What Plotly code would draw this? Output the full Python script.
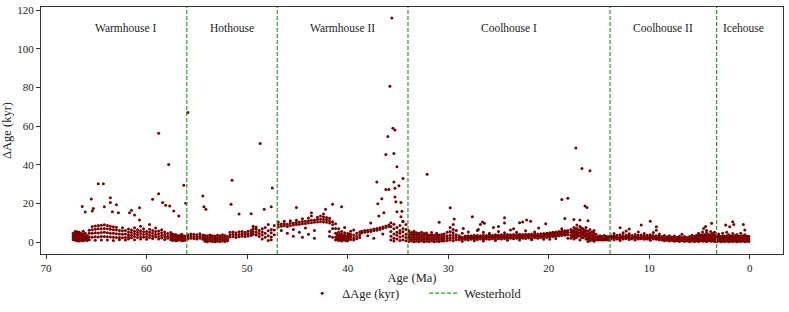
import plotly.graph_objects as go

# ---------------- data ----------------
# Dense band, written column by column: each age has its list of ΔAge values
r1_age = [67.3, 67.1, 66.9, 66.7, 66.5, 66.3, 66.1, 65.9]
r1_dage = [[1.2, 2.3, 3.4, 4.6], [0.9, 2.0, 3.1, 4.3, 5.4], [0.7, 1.8, 3.0, 4.1, 5.3],
           [0.5, 1.6, 2.8, 4.0, 5.0], [0.8, 1.9, 3.2, 4.4], [0.6, 1.7, 2.9, 4.0, 5.6],
           [1.0, 2.2, 3.3, 4.5], [0.8, 2.0, 3.4]]

r2_age = [65.7, 65.4, 65.1, 64.8, 64.5, 64.2, 63.9, 63.6, 63.3, 63.0, 62.7, 62.4, 62.1]
r2_dage = [[1.2, 2.6, 4.5, 6.1], [2.5, 4.6, 6.4, 8.0], [0.9, 2.7, 4.8, 6.6, 8.3],
           [2.6, 4.7, 6.8, 8.6], [1.1, 2.8, 4.9, 6.9, 8.7], [2.9, 5.0, 7.0, 8.9],
           [1.0, 2.7, 4.8, 6.8, 8.5], [2.6, 4.6, 6.6, 8.2], [0.8, 2.5, 4.5, 6.4, 7.9],
           [2.4, 4.3, 6.2, 7.6], [1.2, 2.3, 4.2, 6.0], [2.2, 4.0, 5.8, 7.4], [1.0, 2.4, 4.1, 5.9]]

r3_age = [61.8, 61.5, 61.2, 60.9, 60.6, 60.3, 60.0, 59.7, 59.4, 59.1, 58.8, 58.5, 58.2, 57.9, 57.6]
r3_dage = [[1.5, 2.6, 3.8, 5.2, 6.7], [2.2, 3.5, 4.9, 6.2], [1.2, 2.8, 4.3, 5.6, 7.4],
           [2.4, 3.7, 5.0, 6.4], [1.6, 2.9, 4.4, 5.8, 8.1], [2.5, 3.9, 5.3, 6.9],
           [1.4, 2.7, 4.1, 5.5], [2.3, 3.6, 5.0, 6.6, 9.0], [1.8, 3.1, 4.6, 6.0],
           [2.6, 3.9, 5.4, 7.2], [1.5, 2.8, 4.3, 5.7], [2.1, 3.4, 4.8, 6.3],
           [1.3, 2.6, 3.9, 5.2], [1.9, 3.0, 4.4], [1.2, 2.4, 3.6, 4.9]]

r4_age = [57.4, 57.25, 57.1, 56.95, 56.8, 56.65, 56.5, 56.35, 56.2]
r4_dage = [[0.8, 1.9, 3.0, 4.1], [1.3, 2.4, 3.5], [0.6, 1.7, 2.8, 3.9], [0.9, 2.0, 3.1],
           [1.0, 2.1, 3.2], [1.2, 2.3, 3.4], [0.7, 1.8, 2.9, 4.0], [0.8, 1.9, 3.0], [0.9, 2.0, 3.1]]

r5_age = [55.9, 55.6, 55.3, 55.0, 54.7, 54.4]
r5_dage = [[1.6, 2.7, 3.8], [2.0, 3.1, 4.2], [1.8, 2.9, 4.0], [1.5, 2.6, 3.7],
           [1.9, 3.0, 4.3], [1.4, 2.5, 3.6]]

r6_age = [54.2, 53.95, 53.7, 53.45, 53.2, 52.95, 52.7, 52.45, 52.2, 51.95]
r6_dage = [[0.4, 1.4, 2.4, 3.4], [0.2, 1.2, 2.2, 3.2], [0.5, 1.5, 2.5, 3.6], [0.3, 1.3, 2.3, 3.3],
           [0.2, 1.2, 2.2, 3.1], [0.4, 1.4, 2.4, 3.5], [0.3, 1.3, 2.3, 3.2], [0.5, 1.5, 2.6, 3.7],
           [0.3, 1.3, 2.4, 3.4], [0.6, 1.7, 2.8]]

r7_age = [51.7, 51.4, 51.1, 50.8, 50.5, 50.2, 49.9, 49.6]
r7_dage = [[2.6, 3.8, 5.0], [2.9, 4.0, 5.2], [2.4, 3.6, 4.8], [2.7, 3.9, 5.3],
           [3.0, 4.2, 5.4], [2.8, 4.0, 5.1], [3.1, 4.3, 5.6], [3.4, 4.6, 6.0]]

r8_age = [49.4, 49.1, 48.8, 48.5, 48.2, 47.9, 47.6, 47.3]
r8_dage = [[4.0, 5.5, 7.0, 8.2], [3.6, 5.0, 6.6, 7.8], [2.8, 4.4, 6.0], [1.5, 3.6, 5.2, 6.8],
           [2.5, 4.5, 7.5], [0.8, 3.2, 5.8, 9.0], [1.2, 2.6, 4.8, 6.5], [3.8, 6.2, 8.5]]

r9_age = [46.9, 46.6, 46.3, 46.0, 45.7, 45.4, 45.1, 44.8, 44.5, 44.2, 43.9, 43.6, 43.3]
r9_dage = [[7.8, 9.0, 10.4], [8.1, 9.3, 6.0], [8.4, 9.5, 10.8], [8.0, 9.2, 4.5],
           [8.6, 9.8, 11.0], [8.8, 9.9, 3.0, 6.5], [9.0, 10.1, 11.3], [9.2, 10.3, 5.0],
           [9.4, 10.6, 12.0, 2.5], [9.6, 10.8, 7.2], [9.8, 11.0, 12.4, 4.0],
           [10.0, 11.2, 13.5], [10.2, 11.4, 6.0, 2.0]]

r10_age = [43.0, 42.7, 42.4, 42.1, 41.8, 41.5]
r10_dage = [[10.3, 11.6, 12.8], [10.5, 11.8, 13.4], [10.4, 11.7, 13.0, 14.5],
            [10.2, 11.5, 12.7], [9.8, 11.0, 12.3, 5.5, 3.0], [9.0, 10.5, 7.0, 2.5]]

r11_age = [41.2, 41.05, 40.9, 40.75, 40.6, 40.45, 40.3, 40.15, 40.0, 39.85, 39.7, 39.4, 39.1, 38.8]
r11_dage = [[1.0, 2.5, 4.5, 7.0, 9.5], [1.6, 3.0, 4.2], [0.8, 2.0, 3.4, 5.0, 6.8], [1.2, 2.6, 3.9],
            [0.5, 1.6, 2.8, 4.0, 5.5], [1.0, 2.2, 3.3], [1.1, 2.3, 3.5, 4.8, 7.5], [0.6, 1.7, 2.9],
            [0.7, 1.9, 3.1, 4.4], [1.5, 2.8, 4.1], [1.3, 2.6, 3.9, 5.6], [1.0, 2.2, 3.6, 6.2],
            [1.7, 3.0, 4.5], [2.4, 3.8, 5.2]]

r12_age = [38.6, 38.3, 38.0, 37.7, 37.4, 37.1, 36.8, 36.5, 36.2, 35.9]
r12_dage = [[4.8, 5.6], [5.0, 5.9], [5.3, 6.1, 3.2], [5.5, 6.4], [5.8, 6.7, 2.0],
            [6.1, 7.0], [6.5, 7.4], [7.0, 7.8, 4.2], [7.5, 8.3], [8.0, 8.8]]

r13_age = [35.7, 35.4, 35.1, 34.8, 34.5, 34.2]
r13_dage = [[1.0, 3.0, 5.5, 8.0, 10.0], [0.5, 2.0, 4.2, 6.8, 9.2], [1.5, 3.5, 5.0, 7.5],
            [0.8, 2.6, 4.6, 6.0, 8.6], [1.2, 3.1, 5.3, 7.0, 10.8], [0.6, 2.3, 4.0, 6.5, 9.0]]

r14_age = [33.9, 33.65, 33.4, 33.15, 32.9, 32.65, 32.4, 32.15, 31.9, 31.65, 31.4, 31.15, 30.9, 30.65]
r14_dage = [[0.3, 1.4, 2.5, 3.6, 4.7, 5.8], [0.5, 1.6, 2.7, 3.8, 4.9], [0.2, 1.3, 2.4, 3.5, 4.6, 5.6],
            [0.4, 1.5, 2.6, 3.7, 4.8], [0.3, 1.4, 2.5, 3.6, 4.5], [0.5, 1.6, 2.7, 3.8, 5.0],
            [0.2, 1.3, 2.4, 3.5, 4.4], [0.4, 1.5, 2.6, 3.7, 4.7], [0.3, 1.4, 2.5, 3.6],
            [0.5, 1.6, 2.7, 3.8, 4.9], [0.2, 1.3, 2.4, 3.5], [0.4, 1.5, 2.6, 3.7, 4.6],
            [0.3, 1.4, 2.5, 3.6], [0.5, 1.6, 2.7, 3.9]]

r15_age = [30.4, 30.1, 29.8, 29.5, 29.2]
r15_dage = [[0.5, 1.7, 2.9, 4.1], [0.8, 2.0, 3.2, 5.0], [1.0, 2.3, 3.6, 5.5, 7.5],
            [0.6, 1.9, 3.4, 4.8, 6.5, 9.0], [1.2, 2.5, 3.8, 6.0]]

r16_age = [28.9, 28.75, 28.6, 28.45, 28.3, 28.15, 28.0, 27.85, 27.7, 27.55, 27.4, 27.25, 27.1,
           26.95, 26.8, 26.65, 26.5, 26.35, 26.2, 26.05, 25.9, 25.75, 25.6, 25.45, 25.3, 25.15,
           25.0, 24.85, 24.7, 24.55, 24.4, 24.25, 24.1, 23.95, 23.8, 23.65, 23.5, 23.35, 23.2,
           23.05, 22.9, 22.75, 22.6, 22.45, 22.3, 22.15, 22.0, 21.85, 21.7, 21.55, 21.4, 21.25,
           21.1, 20.95, 20.8, 20.65, 20.5]
r16_dage = [[1.2, 2.2, 3.2], [2.3], [0.4, 1.4, 2.3, 4.5], [2.2], [1.3, 2.2, 3.1], [2.4],
            [1.1, 2.1, 3.3, 5.2], [2.3], [1.4, 2.3, 3.2], [2.5], [0.6, 1.5, 2.4, 3.5], [2.4],
            [1.3, 2.3, 3.4, 6.0], [2.5], [1.5, 2.4, 3.3], [2.6], [0.5, 1.4, 2.4, 3.6, 5.0], [2.5],
            [1.6, 2.5, 3.4], [2.7], [1.4, 2.5, 3.6, 4.6], [2.6], [1.7, 2.6, 3.5], [2.7],
            [0.8, 1.6, 2.6, 3.7], [2.8], [1.7, 2.6, 3.6, 5.5], [2.7], [1.6, 2.7, 3.8], [2.8],
            [1.8, 2.7, 3.6, 4.8], [2.9], [0.9, 1.8, 2.8, 3.9], [2.8], [1.9, 2.8, 3.7, 6.2], [2.9],
            [1.7, 2.8, 3.9], [3.0], [2.0, 2.9, 3.8, 5.0], [2.9], [1.0, 1.9, 3.0, 4.0], [3.0],
            [2.0, 3.0, 3.9], [3.1], [1.8, 2.9, 4.0, 5.8], [3.0], [2.1, 3.0, 4.0], [3.1],
            [1.2, 2.0, 3.1, 4.2], [3.2], [2.2, 3.1, 4.1, 5.2], [3.1], [1.9, 3.0, 4.2], [3.3],
            [2.3, 3.2, 4.3], [3.2], [1.4, 2.3, 3.3, 4.4]]

r17_age = [20.35, 20.2, 20.05, 19.9, 19.75, 19.6, 19.45, 19.3, 19.15, 19.0, 18.85, 18.7,
           18.55, 18.4, 18.25, 18.1]
r17_dage = [[3.0, 4.0], [2.4, 3.5, 4.6], [3.2, 4.2], [2.6, 3.7, 4.8, 1.4], [3.3, 4.4],
            [2.8, 3.9, 5.0], [3.5, 4.6], [3.0, 4.1, 5.2, 1.8], [3.7, 4.8], [3.2, 4.3, 5.4],
            [3.9, 5.0], [3.4, 4.5, 5.6, 6.8], [4.1, 5.2], [3.5, 4.7, 5.8], [4.3, 5.4],
            [3.7, 4.9, 6.0, 2.0]]

r18_age = [17.8, 17.65, 17.5, 17.35, 17.2, 17.05, 16.9, 16.75, 16.6, 16.45, 16.3]
r18_dage = [[2.0, 3.5, 5.0, 6.5], [2.8, 4.3, 5.8], [1.5, 3.0, 4.6, 6.0, 7.5], [2.2, 3.8, 5.3, 6.8],
            [2.5, 4.0, 5.5, 7.0, 8.8], [3.2, 4.7, 6.2], [1.0, 3.2, 4.8, 6.3, 8.0],
            [2.4, 4.0, 5.6, 7.2], [2.2, 3.8, 5.2, 6.8], [3.0, 4.5, 6.0], [1.6, 3.0, 4.4, 6.0, 7.5]]

r19_age = [16.1, 15.9, 15.7, 15.5, 15.3]
r19_dage = [[0.3, 1.5, 2.8, 4.2, 5.6], [0.6, 2.0, 3.4, 4.8, 6.5], [1.0, 2.4, 3.8, 5.2],
            [0.4, 1.8, 3.2, 4.6, 6.0], [1.2, 2.6, 4.0]]

r20_age = [15.1, 14.9, 14.7, 14.5, 14.3, 14.1, 13.95]
r20_dage = [[1.0, 1.8, 2.8], [1.2, 2.0, 3.2], [1.1, 1.9, 2.9], [1.0, 1.8, 3.4],
            [1.2, 2.0, 3.0], [1.1, 1.9, 2.7], [1.0, 1.9, 2.8]]

r21_age = [13.8, 13.65, 13.5, 13.35, 13.2, 13.05, 12.9, 12.75, 12.6, 12.45, 12.3, 12.15, 12.0,
           11.85, 11.7, 11.55, 11.4, 11.25, 11.1, 10.95, 10.8, 10.65, 10.5, 10.35, 10.2, 10.05,
           9.9, 9.75, 9.6, 9.45, 9.3, 9.15, 9.0]
r21_dage = [[1.5, 2.4, 3.3], [2.5], [1.2, 2.3, 3.4, 4.4], [2.4], [1.6, 2.5, 3.5], [2.0],
            [0.8, 1.8, 2.7, 3.7], [2.3], [1.5, 2.5, 3.4, 4.8], [2.2], [1.7, 2.6, 3.6], [2.6],
            [1.3, 2.4, 3.5, 4.3], [2.1], [1.6, 2.5, 3.4], [2.4], [1.0, 2.0, 2.9, 3.9], [2.5],
            [1.5, 2.5, 3.5, 5.2], [2.1], [1.7, 2.6, 3.6], [2.3], [1.4, 2.4, 3.3, 4.4], [2.4],
            [1.6, 2.5, 3.5], [2.0], [0.9, 1.9, 2.8, 3.8], [2.3], [1.5, 2.4, 3.4, 4.9], [2.2],
            [1.4, 2.3, 3.2], [2.1], [1.2, 2.2, 3.1, 4.2]]

r22_age = [8.75, 8.5, 8.25, 8.0, 7.75, 7.5, 7.25, 7.0, 6.75, 6.5, 6.25, 6.0, 5.75, 5.5]
r22_dage = [[1.0, 1.9, 2.8], [0.6, 1.5, 2.4, 3.4], [0.9, 1.8, 2.7], [0.5, 1.4, 2.3, 3.3],
            [0.8, 1.7, 2.6], [0.4, 1.3, 2.2, 3.1], [0.7, 1.6, 2.5], [0.3, 1.2, 2.1, 3.0],
            [0.6, 1.5, 2.4, 4.0], [0.3, 1.2, 2.1, 2.9], [0.5, 1.4, 2.3], [0.2, 1.1, 2.0, 2.9],
            [0.5, 1.4, 2.4, 3.5], [0.3, 1.2, 2.1, 3.0]]

r23_age = [5.3, 5.1, 4.9, 4.7, 4.5, 4.3, 4.1, 3.9, 3.7, 3.5]
r23_dage = [[0.5, 1.5, 2.5, 3.5], [0.3, 1.3, 2.4, 3.4, 4.6], [0.6, 1.6, 2.6, 3.6],
            [0.4, 1.4, 2.5, 3.7, 5.2], [0.5, 1.5, 2.6, 3.8], [0.3, 1.3, 2.4, 3.5, 4.8, 6.0],
            [0.6, 1.6, 2.7, 3.9], [0.4, 1.5, 2.6, 3.8, 5.5], [0.5, 1.5, 2.6, 3.7, 4.6],
            [0.3, 1.4, 2.5, 3.6, 5.0]]

r24_age = [3.3, 3.1, 2.9, 2.7, 2.5, 2.3, 2.1, 1.9, 1.7, 1.5, 1.3, 1.1, 0.9, 0.7, 0.5, 0.3, 0.1]
r24_dage = [[0.3, 1.2, 2.1, 3.0], [0.5, 1.4, 2.3, 3.2, 4.2], [0.2, 1.1, 2.0, 2.9],
            [0.4, 1.3, 2.2, 3.1, 4.5], [0.3, 1.2, 2.1, 3.0], [0.5, 1.4, 2.3, 3.2, 5.0],
            [0.2, 1.1, 2.0, 2.9, 3.8], [0.4, 1.3, 2.2, 3.1], [0.3, 1.2, 2.1, 3.0, 4.4],
            [0.5, 1.4, 2.3, 3.2], [0.2, 1.1, 2.0, 2.9, 3.9], [0.4, 1.3, 2.2, 3.1],
            [0.3, 1.2, 2.1, 3.0, 4.6], [0.5, 1.4, 2.3, 3.2], [0.2, 1.1, 2.0, 2.9, 3.7],
            [0.4, 1.3, 2.2, 3.1], [0.3, 1.2, 2.1, 3.0]]

# Sparse points above the band
scatter_age = [66.4, 65.5, 64.8, 64.3, 63.6, 63.6, 63.0, 60.7, 59.4, 58.8, 58.4, 58.1, 57.7,
               57.3, 56.8, 56.1, 54.4, 54.3, 54.1, 51.6, 50.8, 49.6, 48.3, 47.6, 66.1, 65.3,
               65.4, 64.2, 63.4, 62.8, 61.7, 61.5, 61.2, 60.7, 45.1, 43.6, 42.2, 41.5, 40.6,
               29.8, 29.4, 27.6, 26.6, 26.4, 26.8, 24.4, 24.4, 22.9, 22.2, 21.8, 30.9, 28.5,
               27.0, 25.5, 23.5, 21.0, 25.0, 22.6, 20.3, 18.4, 17.5, 16.9, 16.1, 10.8, 9.9,
               9.3, 9.3, 12.0, 12.3, 12.9, 3.8, 4.4, 4.6, 2.4, 1.7, 1.6, 2.0, 0.65, 0.5]
scatter_dage = [18.4, 22.2, 30.1, 30.1, 22.9, 20.5, 19.3, 17.7, 22.1, 25.0, 20.5, 19.0, 18.6,
                16.0, 13.4, 20.0, 23.8, 18.2, 16.9, 19.6, 14.5, 14.6, 16.9, 18.2, 15.5, 17.4,
                16.0, 18.2, 15.7, 15.2, 15.2, 16.5, 14.0, 11.4, 17.9, 15.2, 16.9, 19.6, 18.2,
                17.7, 11.9, 13.1, 10.3, 9.7, 9.1, 12.6, 9.9, 10.0, 11.4, 10.7, 10.2, 7.0,
                6.5, 7.5, 6.8, 7.2, 8.0, 10.3, 9.5, 12.2, 11.7, 11.4, 11.0, 8.8, 10.7,
                7.9, 6.1, 6.7, 5.7, 7.4, 9.7, 8.0, 7.0, 8.8, 10.5, 9.1, 7.9, 9.1, 6.2]

# High outliers
outlier_age = [55.9, 58.8, 57.8, 56.3, 51.5, 48.7, 47.5, 35.6, 35.8, 35.5, 35.3, 36.0, 36.2,
               35.4, 35.1, 34.5, 37.1, 36.2, 35.9, 35.4, 35.3, 34.9, 36.6, 37.0, 35.3, 35.2,
               34.7, 36.4, 36.9, 35.1, 34.6, 34.7, 34.5, 37.7, 32.1, 17.3, 16.7, 15.9, 18.7,
               18.1, 16.4, 16.2]
outlier_dage = [67.0, 56.3, 40.1, 29.4, 32.0, 51.0, 28.0, 115.9, 80.6, 58.8, 57.9, 54.6, 45.3,
                45.8, 38.9, 32.9, 31.0, 27.2, 27.2, 31.0, 27.8, 29.1, 22.4, 19.8, 23.3, 20.8,
                20.5, 15.2, 13.4, 15.7, 15.9, 13.1, 10.5, 9.8, 35.0, 48.7, 38.1, 36.9, 22.0,
                22.7, 18.6, 17.9]

# Westerhold climate-state boundaries (Ma) and state labels
westerhold_ages = [56.0, 47.0, 34.0, 13.9, 3.3]
state_names = ["Warmhouse I", "Hothouse", "Warmhouse II", "Coolhouse I", "Coolhouse II", "Icehouse"]
state_label_age = [62.0, 51.5, 40.5, 24.0, 8.6, 0.6]
state_label_dage = 110.5

x_ticks = [70, 60, 50, 40, 30, 20, 10, 0]
y_ticks = [0, 20, 40, 60, 80, 100, 120]

# ---------------- build the point table ----------------
band_regions = [
    (r1_age, r1_dage), (r2_age, r2_dage), (r3_age, r3_dage), (r4_age, r4_dage),
    (r5_age, r5_dage), (r6_age, r6_dage), (r7_age, r7_dage), (r8_age, r8_dage),
    (r9_age, r9_dage), (r10_age, r10_dage), (r11_age, r11_dage), (r12_age, r12_dage),
    (r13_age, r13_dage), (r14_age, r14_dage), (r15_age, r15_dage), (r16_age, r16_dage),
    (r17_age, r17_dage), (r18_age, r18_dage), (r19_age, r19_dage), (r20_age, r20_dage),
    (r21_age, r21_dage), (r22_age, r22_dage), (r23_age, r23_dage), (r24_age, r24_dage),
]
all_age, all_dage = [], []
for ages, dages in band_regions:
    for a, col in zip(ages, dages):
        for d in col:
            all_age.append(a)
            all_dage.append(d)
all_age += scatter_age + outlier_age
all_dage += scatter_dage + outlier_dage

FONT = "Liberation Serif, Times New Roman, serif"
RED = "#7d0000"
GREEN = "#25a025"

fig = go.Figure()
fig.add_trace(go.Scatter(
    x=all_age, y=all_dage, mode="markers", name="ΔAge (kyr)",
    marker=dict(color=RED, size=3, line=dict(width=0)),
))
fig.add_trace(go.Scatter(
    x=[None], y=[None], mode="lines", name="Westerhold",
    line=dict(color=GREEN, width=1.2, dash="4px,2px"),
))

for a in westerhold_ages:
    fig.add_shape(type="line", xref="x", yref="paper", x0=a, x1=a, y0=0, y1=1,
                  line=dict(color=GREEN, width=1.2, dash="4px,2px"), layer="above")

for name, a in zip(state_names, state_label_age):
    fig.add_annotation(x=a, y=state_label_dage, xref="x", yref="y", text=name,
                       showarrow=False, font=dict(family=FONT, size=11.5, color="#222"))

axis_common = dict(
    showline=True, linecolor="#333", linewidth=1, mirror=True,
    ticks="outside", ticklen=4, tickcolor="#333", tickwidth=1,
    showgrid=False, zeroline=False, automargin=False,
    tickfont=dict(family=FONT, size=11, color="#222"),
)

fig.update_layout(
    width=789, height=312,
    margin=dict(l=41, r=6, t=7, b=58, autoexpand=False),
    plot_bgcolor="white", paper_bgcolor="white",
    font=dict(family=FONT, size=11, color="#222"),
    xaxis=dict(range=[70.5, -3.3], tickvals=x_ticks,
               title=dict(text="Age (Ma)", standoff=0, font=dict(family=FONT, size=12.5)),
               **axis_common),
    yaxis=dict(range=[-6.2, 121.6], tickvals=y_ticks,
               title=dict(text="ΔAge (kyr)", standoff=2, font=dict(family=FONT, size=12.5)),
               **axis_common),
    showlegend=True,
    legend=dict(orientation="h", x=0.352, xanchor="left", y=-0.16, yanchor="middle",
                font=dict(family=FONT, size=12.5), bgcolor="rgba(0,0,0,0)",
                itemwidth=30, entrywidth=77, entrywidthmode="pixels"),
)

fig.write_html("out.html", config={"displayModeBar": False},
               post_script="document.body.style.margin='0';document.body.style.padding='0';")
